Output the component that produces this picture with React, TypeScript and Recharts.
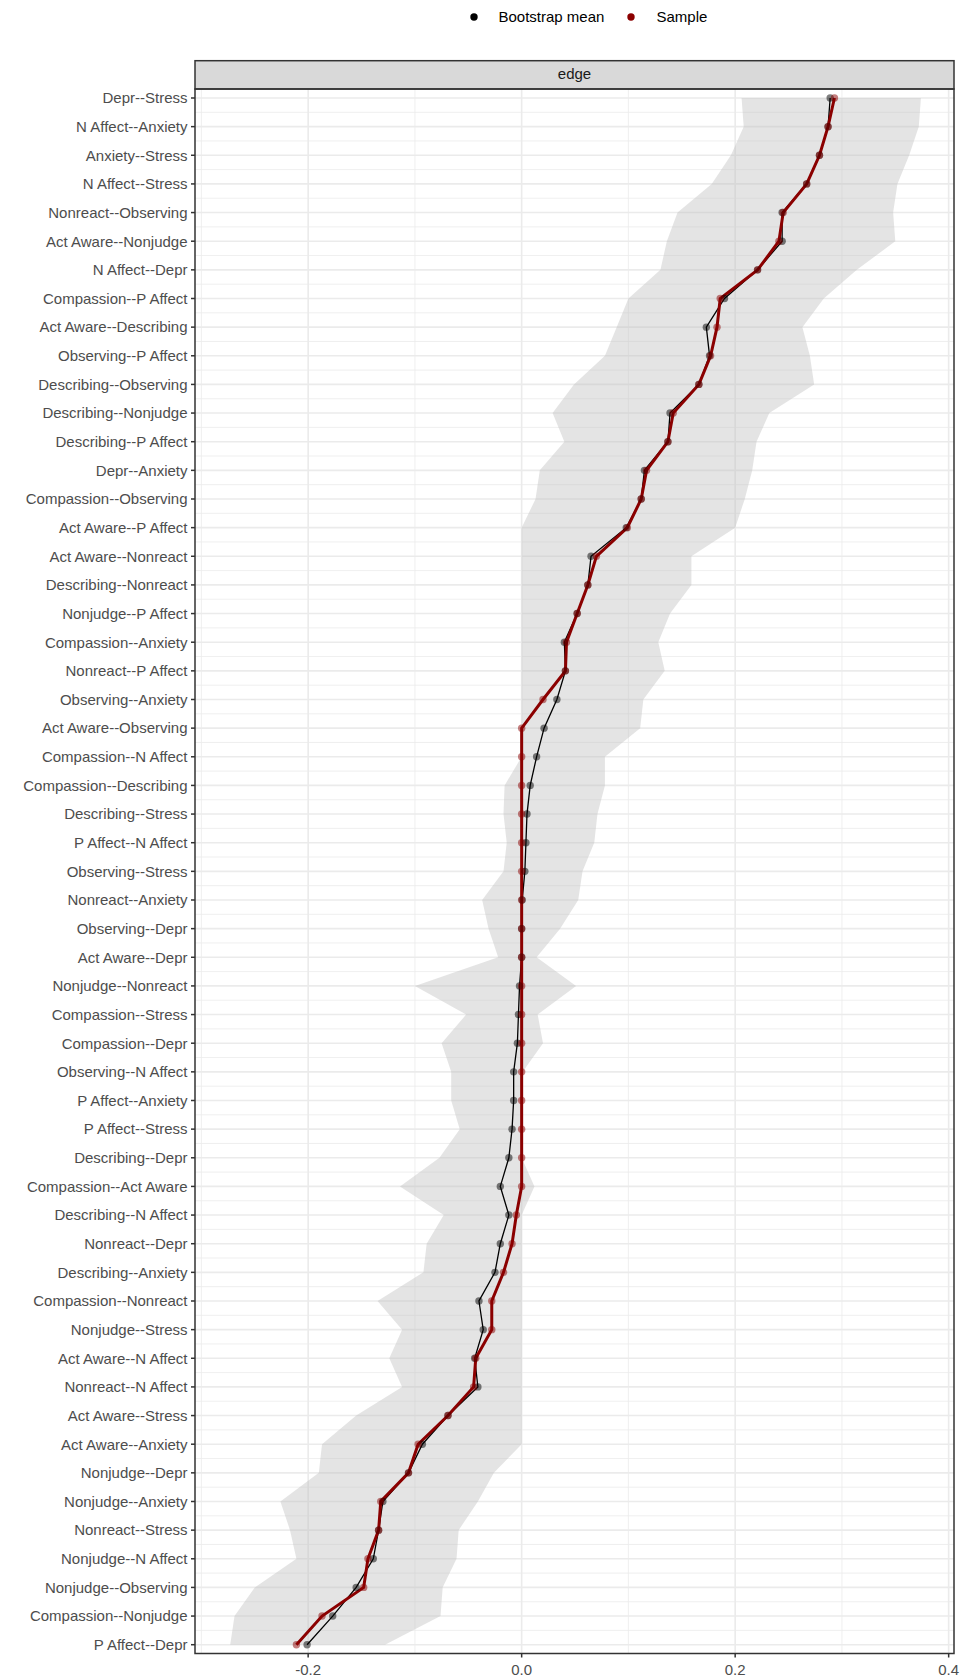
import React from 'react';
import { ComposedChart, Area, Line, XAxis, YAxis, CartesianGrid } from 'recharts';

// edges, top to bottom as they appear in the plot
const edges = [
  'Depr--Stress', 'N Affect--Anxiety', 'Anxiety--Stress', 'N Affect--Stress', 'Nonreact--Observing',
  'Act Aware--Nonjudge', 'N Affect--Depr', 'Compassion--P Affect', 'Act Aware--Describing', 'Observing--P Affect',
  'Describing--Observing', 'Describing--Nonjudge', 'Describing--P Affect', 'Depr--Anxiety', 'Compassion--Observing',
  'Act Aware--P Affect', 'Act Aware--Nonreact', 'Describing--Nonreact', 'Nonjudge--P Affect', 'Compassion--Anxiety',
  'Nonreact--P Affect', 'Observing--Anxiety', 'Act Aware--Observing', 'Compassion--N Affect', 'Compassion--Describing',
  'Describing--Stress', 'P Affect--N Affect', 'Observing--Stress', 'Nonreact--Anxiety', 'Observing--Depr',
  'Act Aware--Depr', 'Nonjudge--Nonreact', 'Compassion--Stress', 'Compassion--Depr', 'Observing--N Affect',
  'P Affect--Anxiety', 'P Affect--Stress', 'Describing--Depr', 'Compassion--Act Aware', 'Describing--N Affect',
  'Nonreact--Depr', 'Describing--Anxiety', 'Compassion--Nonreact', 'Nonjudge--Stress', 'Act Aware--N Affect',
  'Nonreact--N Affect', 'Act Aware--Stress', 'Act Aware--Anxiety', 'Nonjudge--Depr', 'Nonjudge--Anxiety',
  'Nonreact--Stress', 'Nonjudge--N Affect', 'Nonjudge--Observing', 'Compassion--Nonjudge', 'P Affect--Depr',
];

const bootMeans = [
  0.289, 0.287, 0.279, 0.267, 0.244, 0.244, 0.221, 0.190, 0.173, 0.176,
  0.166, 0.139, 0.137, 0.115, 0.112, 0.098, 0.065, 0.062, 0.052, 0.040,
  0.041, 0.033, 0.021, 0.014, 0.008, 0.005, 0.004, 0.003, 0.0005, 0,
  0, -0.002, -0.003, -0.004, -0.0075, -0.0075, -0.009, -0.012, -0.020, -0.012,
  -0.020, -0.025, -0.040, -0.036, -0.044, -0.041, -0.069, -0.093, -0.106, -0.130,
  -0.134, -0.139, -0.155, -0.177, -0.201,
];

const sampleVals = [
  0.293, 0.287, 0.279, 0.267, 0.245, 0.241, 0.221, 0.186, 0.183, 0.177,
  0.166, 0.142, 0.137, 0.117, 0.112, 0.099, 0.070, 0.062, 0.052, 0.042,
  0.041, 0.020, 0, 0, 0, 0, 0, 0, 0, 0,
  0, 0, 0, 0, 0, 0, 0, 0, 0, -0.005,
  -0.009, -0.017, -0.028, -0.028, -0.043, -0.045, -0.069, -0.097, -0.106, -0.132,
  -0.134, -0.144, -0.148, -0.187, -0.211,
];

const ciLower = [
  0.206, 0.208, 0.196, 0.178, 0.146, 0.136, 0.130, 0.100, 0.089, 0.078,
  0.049, 0.029, 0.040, 0.017, 0.013, 0, 0, 0, 0, 0,
  0, 0, 0, 0, -0.016, -0.017, -0.014, -0.017, -0.037, -0.031,
  -0.022, -0.100, -0.052, -0.075, -0.066, -0.066, -0.058, -0.077, -0.114, -0.073,
  -0.089, -0.092, -0.135, -0.112, -0.124, -0.112, -0.155, -0.187, -0.190, -0.226,
  -0.217, -0.211, -0.250, -0.269, -0.273,
];

const ciUpper = [
  0.374, 0.372, 0.363, 0.352, 0.348, 0.350, 0.314, 0.283, 0.263, 0.270,
  0.274, 0.232, 0.220, 0.216, 0.209, 0.200, 0.159, 0.159, 0.139, 0.128,
  0.134, 0.114, 0.111, 0.078, 0.078, 0.071, 0.068, 0.057, 0.053, 0.036,
  0.014, 0.051, 0.015, 0.020, 0.001, 0, 0, 0, 0.012, 0,
  0, 0, 0, 0, 0, 0, 0, 0, -0.026, -0.041,
  -0.059, -0.061, -0.074, -0.076, -0.128,
];

const xTicks = [-0.2, 0, 0.2, 0.4];
const xMinor = [-0.3, -0.1, 0.1, 0.3];

const rows = edges.map((edge, i) => ({
  idx: i + 1,
  edge,
  boot: bootMeans[i],
  sample: sampleVals[i],
  lo: ciLower[i],
  hi: ciUpper[i],
}));

const yTicks = rows.map((r) => r.idx);
const yMinor = rows.slice(1).map((r) => r.idx - 0.5);

const FONT = '"Liberation Sans", Arial, Helvetica, sans-serif';
const W = 960;
const H = 1677;
const PLOT = { left: 195, right: 954, top: 89, bottom: 1653.5 };

export default function App() {
  return (
    <div style={{ position: 'absolute', left: 0, top: 0, width: W, height: H, background: '#fff', fontFamily: FONT }}>
      <ComposedChart
        width={W}
        height={H}
        data={rows}
        layout="vertical"
        margin={{ top: PLOT.top, right: W - PLOT.right, bottom: 0, left: 0 }}
      >
        <CartesianGrid
          horizontalValues={yMinor}
          verticalValues={xMinor}
          stroke="#EBEBEB"
          strokeWidth={0.8}
        />
        <CartesianGrid
          horizontalValues={yTicks}
          verticalValues={xTicks}
          stroke="#EBEBEB"
          strokeWidth={1.6}
        />
        <XAxis
          type="number"
          domain={[-0.306, 0.405]}
          allowDataOverflow
          ticks={xTicks}
          interval={0}
          tickFormatter={(v: number) => v.toFixed(1)}
          height={H - PLOT.bottom}
          axisLine={false}
          tickSize={4}
          tickMargin={6.8}
          tickLine={{ stroke: '#333333', strokeWidth: 1.5 }}
          tick={{ fill: '#4D4D4D', fontSize: 15 }}
        />
        <YAxis
          type="number"
          dataKey="idx"
          domain={[0.686, 55.307]}
          allowDataOverflow
          ticks={yTicks}
          interval={0}
          tickFormatter={(v: number) => edges[v - 1] ?? ''}
          width={PLOT.left}
          axisLine={false}
          tickSize={4}
          tickMargin={3.5}
          tickLine={{ stroke: '#333333', strokeWidth: 1.5 }}
          tick={{ fill: '#4D4D4D', fontSize: 15 }}
        />
        <Area
          type="linear"
          dataKey={(d: any) => [d.lo, d.hi]}
          stroke="none"
          fill="#bebebe"
          fillOpacity={0.42}
          dot={false}
          activeDot={false}
          isAnimationActive={false}
        />
        <Line type="linear" dataKey="boot" stroke="#000000" strokeWidth={1.3} dot={false} activeDot={false} isAnimationActive={false} />
        <Line type="linear" dataKey="sample" stroke="#8B0000" strokeWidth={3} dot={false} activeDot={false} isAnimationActive={false} />
        <Line
          type="linear"
          dataKey="boot"
          stroke="none"
          strokeOpacity={0}
          dot={{ r: 3.7, fill: '#000000', fillOpacity: 0.5, stroke: 'none' }}
          activeDot={false}
          isAnimationActive={false}
        />
        <Line
          type="linear"
          dataKey="sample"
          stroke="none"
          strokeOpacity={0}
          dot={{ r: 3.7, fill: '#8B0000', fillOpacity: 0.5, stroke: 'none' }}
          activeDot={false}
          isAnimationActive={false}
        />
      </ComposedChart>

      {/* facet strip, panel border and legend drawn on top */}
      <svg width={W} height={H} style={{ position: 'absolute', left: 0, top: 0, pointerEvents: 'none' }}>
        <rect x={PLOT.left} y={60.7} width={PLOT.right - PLOT.left} height={PLOT.top - 60.7} fill="#D9D9D9" stroke="#333333" strokeWidth={1.5} />
        <text x={(PLOT.left + PLOT.right) / 2} y={79} textAnchor="middle" fontSize={15} fill="#1A1A1A" fontFamily={FONT}>edge</text>
        <rect x={PLOT.left} y={PLOT.top} width={PLOT.right - PLOT.left} height={PLOT.bottom - PLOT.top} fill="none" stroke="#333333" strokeWidth={1.5} />

        <circle cx={474} cy={17} r={3.7} fill="#000000" />
        <text x={498.5} y={22} fontSize={15} fill="#000000" fontFamily={FONT}>Bootstrap mean</text>
        <circle cx={631} cy={17} r={3.7} fill="#8B0000" />
        <text x={656.5} y={22} fontSize={15} fill="#000000" fontFamily={FONT}>Sample</text>
      </svg>
    </div>
  );
}
